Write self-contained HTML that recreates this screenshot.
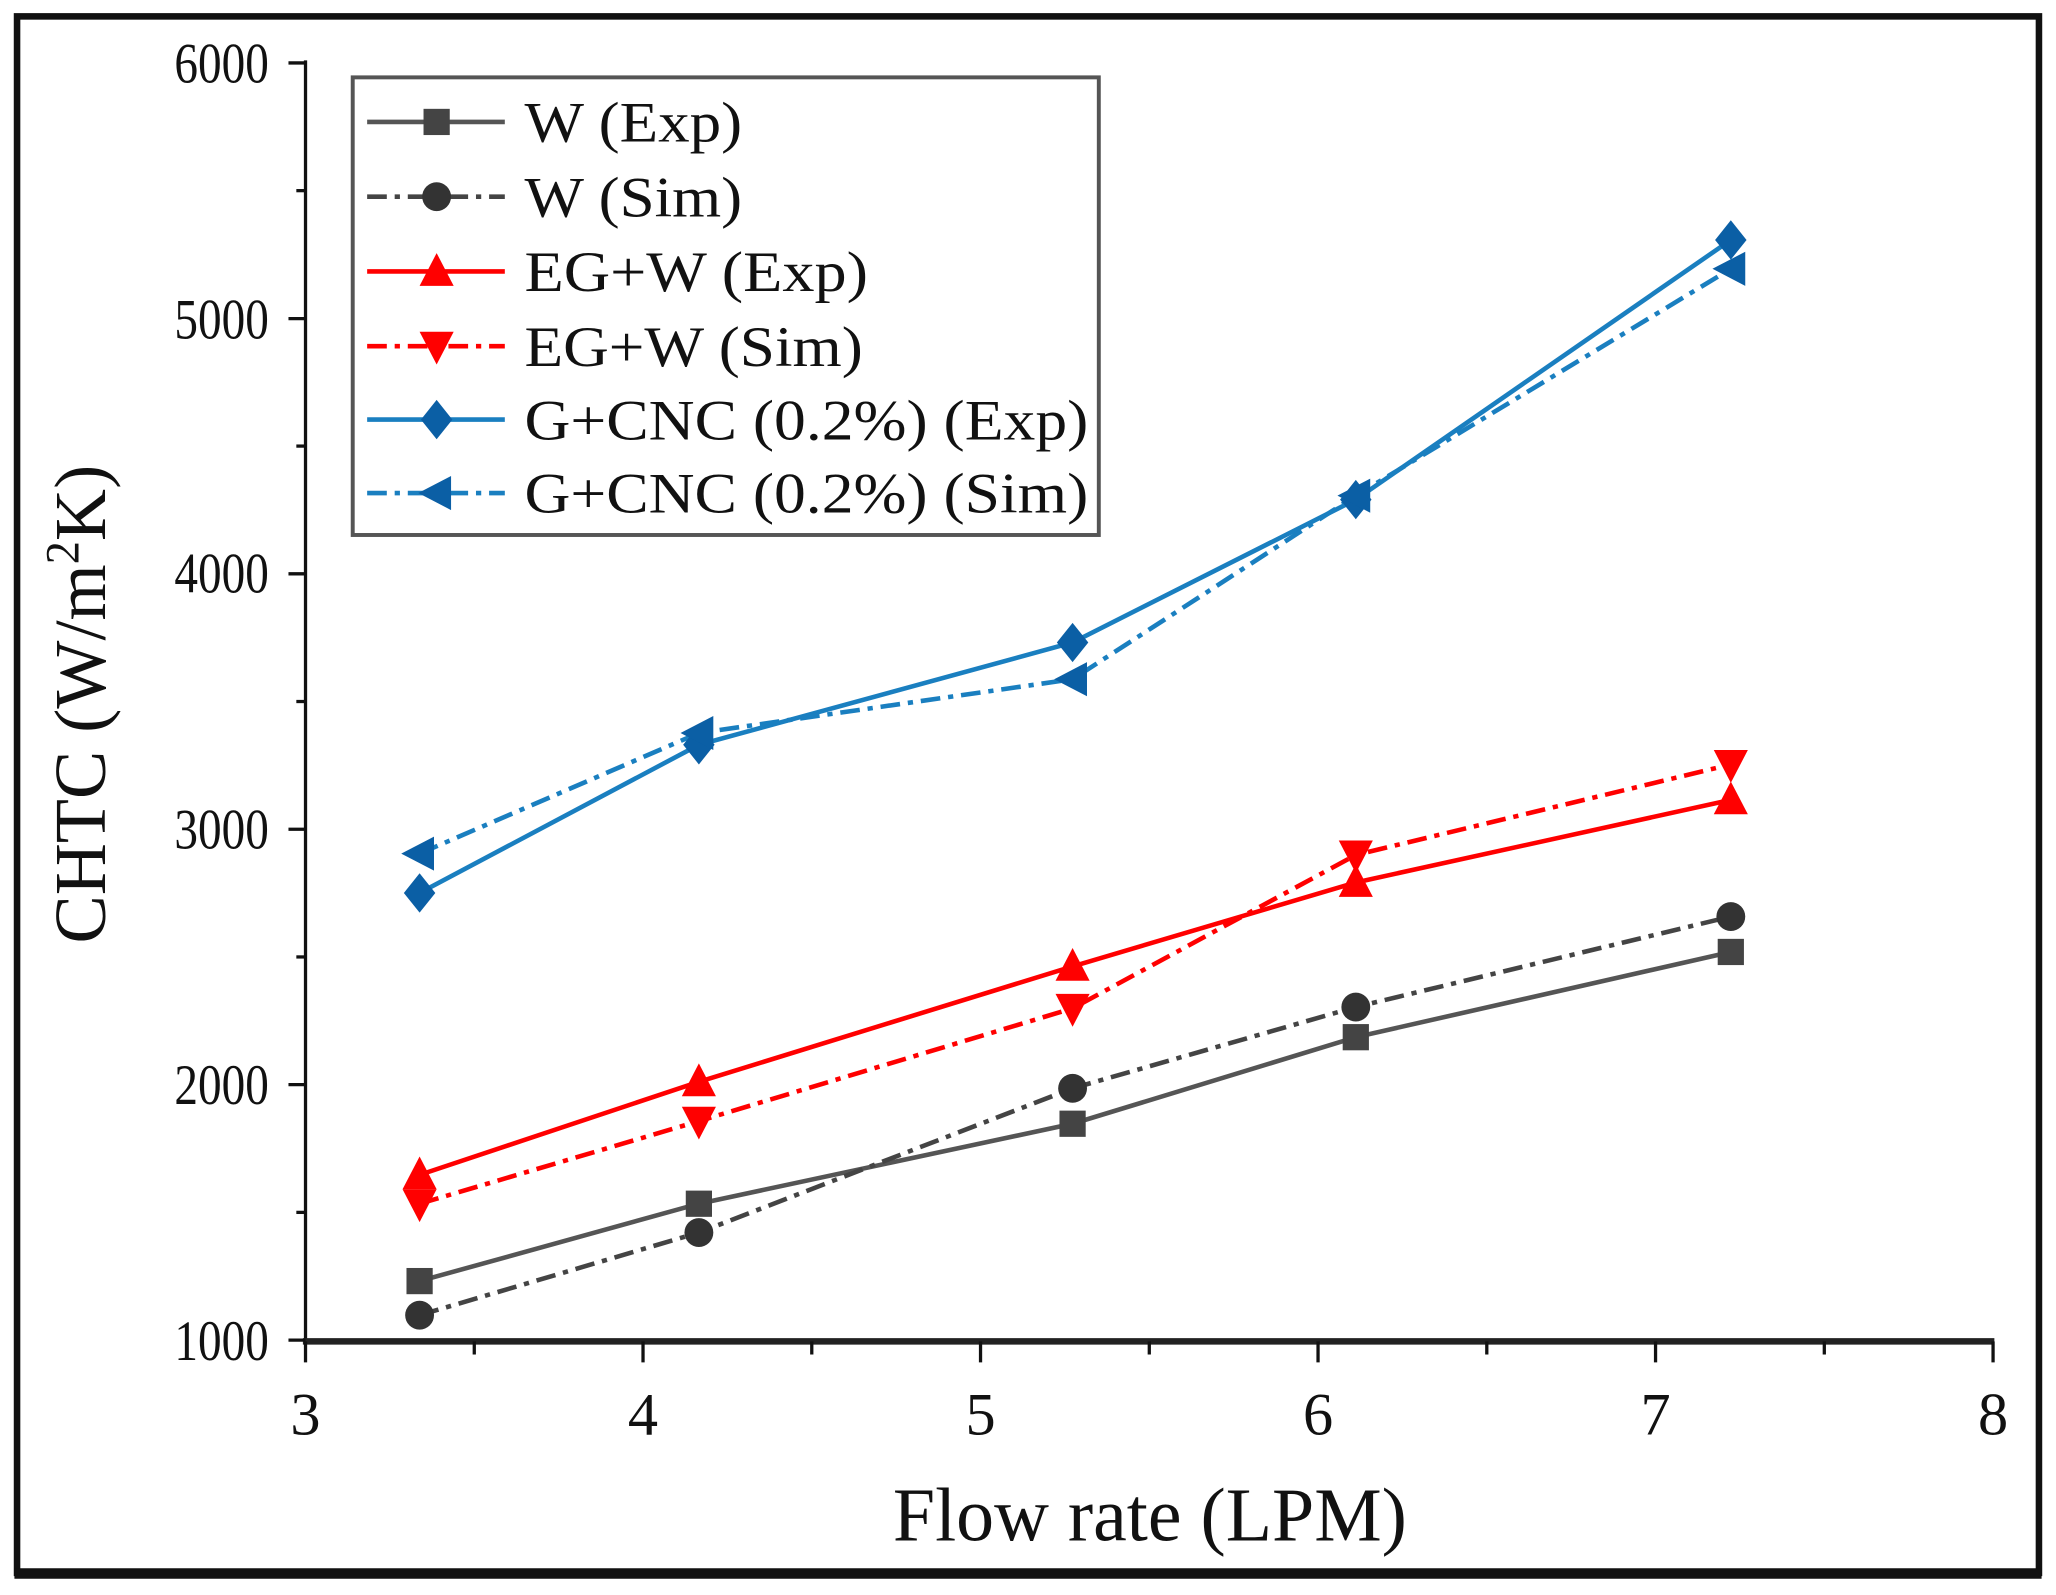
<!DOCTYPE html>
<html><head><meta charset="utf-8"><style>
html,body{margin:0;padding:0;background:#fff;}
svg{display:block;}
text{font-family:"Liberation Serif",serif;fill:#111;}
</style></head><body>
<svg width="2056" height="1595" viewBox="0 0 1568 1216.4" xmlns="http://www.w3.org/2000/svg" preserveAspectRatio="none">
<rect x="0" y="0" width="1568" height="1216.4" fill="#fff"/>
<rect x="13" y="12.5" width="1542" height="1187" fill="none" stroke="#111" stroke-width="5"/>
<line x1="11" y1="1200" x2="1557" y2="1200" stroke="#111" stroke-width="8"/>
<line x1="233" y1="46" x2="233" y2="1024" stroke="#111" stroke-width="2.5"/>
<line x1="231" y1="1023" x2="1521" y2="1023" stroke="#222" stroke-width="5"/>
<g stroke="#111" stroke-width="2.5">
<line x1="220" y1="48" x2="233" y2="48"/><line x1="220" y1="243" x2="233" y2="243"/><line x1="220" y1="437.6" x2="233" y2="437.6"/><line x1="220" y1="632.4" x2="233" y2="632.4"/><line x1="220" y1="827.2" x2="233" y2="827.2"/><line x1="220" y1="1022" x2="233" y2="1022"/>
<line x1="226" y1="145.4" x2="233" y2="145.4"/><line x1="226" y1="340.2" x2="233" y2="340.2"/><line x1="226" y1="535" x2="233" y2="535"/><line x1="226" y1="729.8" x2="233" y2="729.8"/><line x1="226" y1="924.6" x2="233" y2="924.6"/>
<line x1="233" y1="1023" x2="233" y2="1039"/><line x1="490.4" y1="1023" x2="490.4" y2="1039"/><line x1="747.8" y1="1023" x2="747.8" y2="1039"/><line x1="1005.2" y1="1023" x2="1005.2" y2="1039"/><line x1="1262.6" y1="1023" x2="1262.6" y2="1039"/><line x1="1520" y1="1023" x2="1520" y2="1039"/>
<line x1="361.7" y1="1023" x2="361.7" y2="1033"/><line x1="619.1" y1="1023" x2="619.1" y2="1033"/><line x1="876.5" y1="1023" x2="876.5" y2="1033"/><line x1="1133.9" y1="1023" x2="1133.9" y2="1033"/><line x1="1391.3" y1="1023" x2="1391.3" y2="1033"/>
</g>
<g font-size="44" text-anchor="end">
<text x="205" y="63" textLength="72" lengthAdjust="spacingAndGlyphs">6000</text>
<text x="205" y="258" textLength="72" lengthAdjust="spacingAndGlyphs">5000</text>
<text x="205" y="452" textLength="72" lengthAdjust="spacingAndGlyphs">4000</text>
<text x="205" y="647" textLength="72" lengthAdjust="spacingAndGlyphs">3000</text>
<text x="205" y="842" textLength="72" lengthAdjust="spacingAndGlyphs">2000</text>
<text x="205" y="1037" textLength="72" lengthAdjust="spacingAndGlyphs">1000</text>
</g>
<g font-size="46" text-anchor="middle">
<text x="233" y="1094">3</text><text x="490.4" y="1094">4</text><text x="747.8" y="1094">5</text><text x="1005.2" y="1094">6</text><text x="1262.6" y="1094">7</text><text x="1520" y="1094">8</text>
</g>
<text x="877" y="1175" font-size="58" text-anchor="middle" textLength="392" lengthAdjust="spacingAndGlyphs">Flow rate (LPM)</text>
<text transform="translate(80,537) rotate(-90)" font-size="56" text-anchor="middle" textLength="365" lengthAdjust="spacingAndGlyphs">CHTC (W/m<tspan font-size="36" dy="-20">2</tspan><tspan dy="20">K)</tspan></text>
<g fill="none" stroke-width="3.5">
<polyline stroke="#555" points="320,977 533,918 818,857 1034,791 1320,726"/>
<polyline stroke="#444" stroke-dasharray="15,6,4,6" points="320,1003 533,940 818,830 1034,768 1320,699"/>
<polyline stroke="#f00" points="320,896 533,825 818,737 1034,673 1320,610"/>
<polyline stroke="#f00" stroke-dasharray="15,6,4,6" points="320,918 533,855 818,769 1034,652 1320,583"/>
<polyline stroke="#1a7fc0" points="320,681 533,568 818,490 1034,381 1320,183"/>
<polyline stroke="#1a7fc0" stroke-dasharray="15,6,4,6" points="320,651 533,559 818,518 1034,378 1320,205"/>
</g>
<defs>
<rect id="sq" x="-10" y="-10" width="20" height="20" fill="#444"/>
<circle id="ci" r="11" fill="#333"/>
<polygon id="tu" points="0,-14 13,11 -13,11" fill="#f00"/>
<polygon id="td" points="0,14 13,-11 -13,-11" fill="#f00"/>
<polygon id="dm" points="0,-15 12,0 0,15 -12,0" fill="#0b5fa5"/>
<polygon id="tl" points="-14,0 11,-13 11,13" fill="#0b5fa5"/>
</defs>
<use href="#sq" x="320" y="977"/><use href="#sq" x="533" y="918"/><use href="#sq" x="818" y="857"/><use href="#sq" x="1034" y="791"/><use href="#sq" x="1320" y="726"/>
<use href="#ci" x="320" y="1003"/><use href="#ci" x="533" y="940"/><use href="#ci" x="818" y="830"/><use href="#ci" x="1034" y="768"/><use href="#ci" x="1320" y="699"/>
<use href="#tu" x="320" y="896"/><use href="#tu" x="533" y="825"/><use href="#tu" x="818" y="737"/><use href="#tu" x="1034" y="673"/><use href="#tu" x="1320" y="610"/>
<use href="#td" x="320" y="918"/><use href="#td" x="533" y="855"/><use href="#td" x="818" y="769"/><use href="#td" x="1034" y="652"/><use href="#td" x="1320" y="583"/>
<use href="#dm" x="320" y="681"/><use href="#dm" x="533" y="568"/><use href="#dm" x="818" y="490"/><use href="#dm" x="1034" y="381"/><use href="#dm" x="1320" y="183"/>
<use href="#tl" x="320" y="651"/><use href="#tl" x="533" y="559"/><use href="#tl" x="818" y="518"/><use href="#tl" x="1034" y="378"/><use href="#tl" x="1320" y="205"/>
<rect x="269" y="59" width="569" height="349" fill="#fff" stroke="#555" stroke-width="3"/>
<g stroke-width="3.5">
<line x1="280" y1="93" x2="385" y2="93" stroke="#555"/>
<line x1="280" y1="150" x2="385" y2="150" stroke="#444" stroke-dasharray="15,6,4,6"/>
<line x1="280" y1="207" x2="385" y2="207" stroke="#f00"/>
<line x1="280" y1="264" x2="385" y2="264" stroke="#f00" stroke-dasharray="15,6,4,6"/>
<line x1="280" y1="320" x2="385" y2="320" stroke="#1a7fc0"/>
<line x1="280" y1="376" x2="385" y2="376" stroke="#1a7fc0" stroke-dasharray="15,6,4,6"/>
</g>
<use href="#sq" x="333" y="93"/><use href="#ci" x="333" y="150"/><use href="#tu" x="333" y="207"/><use href="#td" x="333" y="264"/><use href="#dm" x="333" y="320"/><use href="#tl" x="333" y="376"/>
<g font-size="44">
<text x="400" y="108" textLength="166" lengthAdjust="spacingAndGlyphs">W (Exp)</text>
<text x="400" y="165" textLength="166" lengthAdjust="spacingAndGlyphs">W (Sim)</text>
<text x="400" y="222" textLength="262" lengthAdjust="spacingAndGlyphs">EG+W (Exp)</text>
<text x="400" y="279" textLength="258" lengthAdjust="spacingAndGlyphs">EG+W (Sim)</text>
<text x="400" y="335" textLength="430" lengthAdjust="spacingAndGlyphs">G+CNC (0.2%) (Exp)</text>
<text x="400" y="391" textLength="430" lengthAdjust="spacingAndGlyphs">G+CNC (0.2%) (Sim)</text>
</g>
</svg>
</body></html>
